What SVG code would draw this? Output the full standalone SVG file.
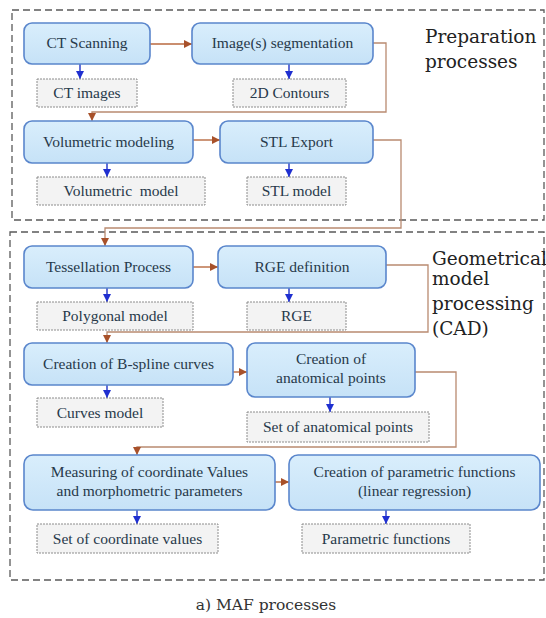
<svg xmlns="http://www.w3.org/2000/svg" width="546" height="618" viewBox="0 0 546 618">
  <style>
    .frame { fill: none; stroke: #5a5a5a; stroke-width: 1.3; stroke-dasharray: 7 4; }
    .proc { fill: url(#procFill); stroke: #5a86cc; stroke-width: 1.6; }
    .out { fill: #f3f3f3; stroke: #8c8c8c; stroke-width: 1; stroke-dasharray: 2 1; }
    .t { font-size: 15.5px; fill: #27394a; text-anchor: middle; }
    .side { font-size: 18.5px; fill: #222; }
    .cap { font-size: 15.5px; fill: #333; text-anchor: middle; }
    .flow { fill: none; stroke: #b8693f; stroke-width: 1.4; marker-end: url(#brownHead); }
    .loop { fill: none; stroke: #b98a70; stroke-width: 1.3; marker-end: url(#brownHead); }
    .down { fill: none; stroke: #1f33c8; stroke-width: 1.4; marker-end: url(#blueHead); }
  </style>
  <defs>
    <linearGradient id="procFill" x1="0" y1="0" x2="0" y2="1">
      <stop offset="0" stop-color="#d9eefc"/>
      <stop offset="1" stop-color="#c6e2f7"/>
    </linearGradient>
    <marker id="brownHead" viewBox="0 0 10 10" refX="10" refY="5" markerWidth="8" markerHeight="8" markerUnits="userSpaceOnUse" orient="auto">
      <path d="M0,0 L10,5 L0,10 Z" fill="#a8512a"/>
    </marker>
    <marker id="blueHead" viewBox="0 0 10 10" refX="10" refY="5" markerWidth="8" markerHeight="8" markerUnits="userSpaceOnUse" orient="auto">
      <path d="M0,0 L10,5 L0,10 Z" fill="#1f2fd0"/>
    </marker>
  </defs>

  <rect width="546" height="618" fill="#ffffff"/>

  <!-- stage frames -->
  <rect class="frame" x="12" y="10" width="532" height="210"/>
  <rect class="frame" x="10" y="232" width="534" height="348" stroke-dasharray="5 3" stroke="#6a6a6a"/>
  <g font-family="'DejaVu Serif', 'Liberation Serif', serif">
    <text class="side" x="425" y="43">Preparation</text>
    <text class="side" x="425" y="68">processes</text>
    <text class="side" x="432" y="265">Geometrical</text>
    <text class="side" x="432" y="285">model</text>
    <text class="side" x="432" y="310">processing</text>
    <text class="side" x="432" y="335">(CAD)</text>
    <text class="cap" x="266" y="610">a) MAF processes</text>
  </g>

  <!-- connectors -->
  <g id="connectors">
    <path class="flow" d="M150,44 H192"/>
    <path class="loop" d="M373,43 H386 V112 H92 V121"/>
    <path class="flow" d="M193,140 H220"/>
    <path class="loop" d="M373,140 H401 V228 H105 V246"/>
    <path class="flow" d="M193,267 H218"/>
    <path class="loop" d="M386,265 H428 V332 H107 V343"/>
    <path class="flow" d="M233,372 H247"/>
    <path class="loop" d="M415,372 H456 V447 H137 V455"/>
    <path class="flow" d="M275,482 H289"/>

    <path class="down" d="M80,64 V79"/>
    <path class="down" d="M289,64 V79"/>
    <path class="down" d="M107,163 V177"/>
    <path class="down" d="M289,163 V177"/>
    <path class="down" d="M107,288 V302"/>
    <path class="down" d="M289,288 V302"/>
    <path class="down" d="M107,385 V398"/>
    <path class="down" d="M330,397 V412"/>
    <path class="down" d="M137,510 V524"/>
    <path class="down" d="M386,510 V524"/>
  </g>

  <!-- process and output nodes -->
  <g font-family="'Liberation Serif', 'Times New Roman', 'DejaVu Serif', serif">
  <g id="ct-scanning">
    <rect class="proc" x="24" y="23" width="126" height="41" rx="8"/>
    <text class="t" x="87" y="48">CT Scanning</text>
  </g>
  <g id="image-segmentation">
    <rect class="proc" x="192" y="23" width="181" height="41" rx="8"/>
    <text class="t" x="282.5" y="48">Image(s) segmentation</text>
  </g>
  <g id="ct-images">
    <rect class="out" x="37" y="79" width="100" height="28"/>
    <text class="t" x="87" y="98">CT images</text>
  </g>
  <g id="contours-2d">
    <rect class="out" x="233" y="79" width="113" height="28"/>
    <text class="t" x="289.5" y="98">2D Contours</text>
  </g>
  <g id="volumetric-modeling">
    <rect class="proc" x="24" y="121" width="169" height="42" rx="8"/>
    <text class="t" x="108.5" y="147">Volumetric modeling</text>
  </g>
  <g id="stl-export">
    <rect class="proc" x="220" y="121" width="153" height="42" rx="8"/>
    <text class="t" x="296.5" y="147">STL Export</text>
  </g>
  <g id="volumetric-model">
    <rect class="out" x="37" y="177" width="168" height="28"/>
    <text class="t" x="121" y="196" xml:space="preserve">Volumetric  model</text>
  </g>
  <g id="stl-model">
    <rect class="out" x="247" y="177" width="99" height="28"/>
    <text class="t" x="296.5" y="196">STL model</text>
  </g>
  <g id="tessellation">
    <rect class="proc" x="24" y="246" width="169" height="42" rx="8"/>
    <text class="t" x="108.5" y="272">Tessellation Process</text>
  </g>
  <g id="rge-definition">
    <rect class="proc" x="218" y="246" width="168" height="42" rx="8"/>
    <text class="t" x="302" y="272">RGE definition</text>
  </g>
  <g id="polygonal-model">
    <rect class="out" x="37" y="302" width="156" height="28"/>
    <text class="t" x="115" y="321">Polygonal model</text>
  </g>
  <g id="rge">
    <rect class="out" x="247" y="302" width="99" height="28"/>
    <text class="t" x="296.5" y="321">RGE</text>
  </g>
  <g id="bspline">
    <rect class="proc" x="24" y="343" width="209" height="42" rx="8"/>
    <text class="t" x="128.5" y="369">Creation of B-spline curves</text>
  </g>
  <g id="anatomical-points">
    <rect class="proc" x="247" y="343" width="168" height="54" rx="8"/>
    <text class="t" x="331" y="364">Creation of</text>
    <text class="t" x="331" y="383">anatomical points</text>
  </g>
  <g id="curves-model">
    <rect class="out" x="37" y="398" width="126" height="29"/>
    <text class="t" x="100" y="418">Curves model</text>
  </g>
  <g id="set-anatomical">
    <rect class="out" x="247" y="412" width="182" height="30"/>
    <text class="t" x="338" y="432">Set of anatomical points</text>
  </g>
  <g id="measuring">
    <rect class="proc" x="24" y="455" width="251" height="55" rx="9"/>
    <text class="t" x="149.5" y="477">Measuring of coordinate Values</text>
    <text class="t" x="149.5" y="496">and morphometric parameters</text>
  </g>
  <g id="parametric-creation">
    <rect class="proc" x="289" y="455" width="251" height="55" rx="9"/>
    <text class="t" x="414.5" y="477">Creation of parametric functions</text>
    <text class="t" x="414.5" y="496">(linear regression)</text>
  </g>
  <g id="coordinate-values">
    <rect class="out" x="37" y="524" width="181" height="29"/>
    <text class="t" x="127.5" y="544">Set of coordinate values</text>
  </g>
  <g id="parametric-functions">
    <rect class="out" x="302" y="524" width="168" height="29"/>
    <text class="t" x="386" y="544">Parametric functions</text>
  </g>
  </g>
</svg>
